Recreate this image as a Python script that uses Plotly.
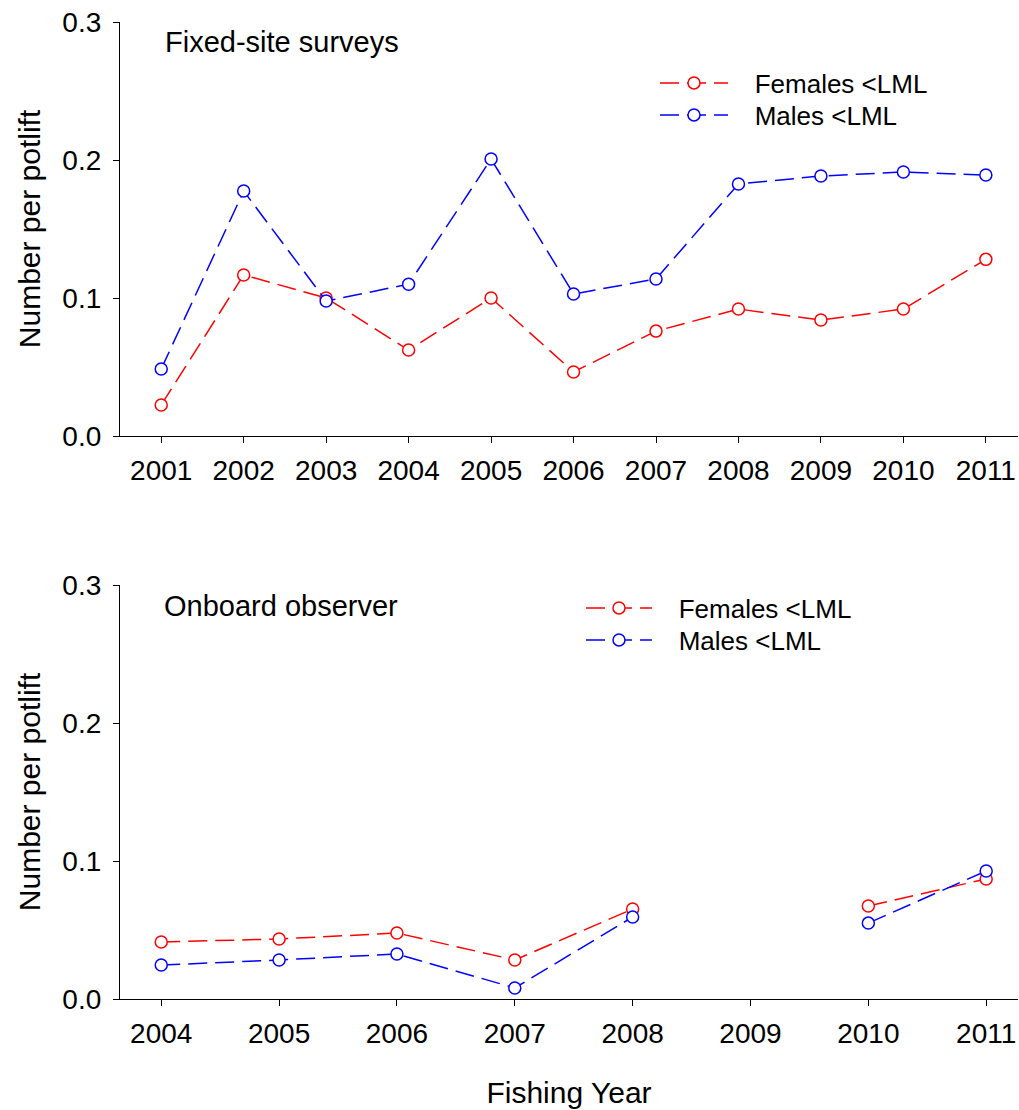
import plotly.graph_objects as go

years_top = [2001, 2002, 2003, 2004, 2005, 2006, 2007, 2008, 2009, 2010, 2011]
fem_top = [0.0225, 0.1167, 0.100, 0.0623, 0.100, 0.0464, 0.076, 0.092, 0.084, 0.092, 0.128]
male_top = [0.0486, 0.1775, 0.0978, 0.110, 0.2007, 0.1029, 0.1138, 0.1826, 0.1884, 0.1913, 0.1891]

years_bot = [2004, 2005, 2006, 2007, 2008, 2009, 2010, 2011]
fem_bot = [0.0413, 0.0435, 0.0478, 0.0283, 0.0652, None, 0.0674, 0.087]
male_bot = [0.0246, 0.0283, 0.0326, 0.008, 0.0594, None, 0.055, 0.0928]

y_ticks = [0.0, 0.1, 0.2, 0.3]
y_ticklabels = ["0.0", "0.1", "0.2", "0.3"]

RED = "#FF0000"
BLUE = "#0000FF"
FONT = "Liberation Sans, Arial, sans-serif"
W, H = 1019, 1110
ML, MR, MT, MB = 120, 1, 22, 111
PW, PH = W - ML - MR, H - MT - MB
NB = "\u00a0\u00a0\u00a0"


def px_x(p):
    return (p - ML) / PW


def px_y(p):
    return (H - MB - p) / PH


def tr(x, y, name, color, xa, ya, legend):
    return go.Scatter(
        x=x, y=y, name=NB + name, mode="lines+markers",
        line=dict(color=color, width=1.5, dash="19px,8px"),
        marker=dict(symbol="circle", size=12, color="white",
                    line=dict(color=color, width=1.5)),
        xaxis=xa, yaxis=ya, legend=legend, connectgaps=False,
    )


fig = go.Figure()
fig.add_trace(tr(years_top, fem_top, "Females <LML", RED, "x", "y", "legend"))
fig.add_trace(tr(years_top, male_top, "Males <LML", BLUE, "x", "y", "legend3"))
fig.add_trace(tr(years_bot, fem_bot, "Females <LML", RED, "x2", "y2", "legend2"))
fig.add_trace(tr(years_bot, male_bot, "Males <LML", BLUE, "x2", "y2", "legend4"))

axis_common = dict(showline=True, linecolor="black", linewidth=1.2,
                   ticks="outside", ticklen=6, tickcolor="black", tickwidth=1.2,
                   showgrid=False, zeroline=False, automargin=False,
                   tickfont=dict(family=FONT, size=28, color="black"))
title_font = dict(family=FONT, size=30, color="black")

top_dom = [px_y(436), px_y(22)]
bot_dom = [px_y(999), px_y(585)]


def leg(xp, yc, iw):
    return dict(x=px_x(xp), y=px_y(yc), xanchor="left", yanchor="middle",
                bgcolor="rgba(0,0,0,0)", font=dict(family=FONT, size=26, color="black"),
                itemwidth=iw, tracegroupgap=0)


fig.update_layout(
    width=W, height=H,
    margin=dict(l=ML, r=MR, t=MT, b=MB),
    paper_bgcolor="white", plot_bgcolor="white",
    font=dict(family=FONT, size=26, color="black"),
    xaxis=dict(domain=[0, 1], anchor="y", range=[2000.5, 2011.39],
               tickvals=years_top, ticktext=[str(v) for v in years_top],
               ticklabelstandoff=3, **axis_common),
    yaxis=dict(domain=top_dom, anchor="x", range=[0, 0.3],
               tickvals=y_ticks, ticktext=y_ticklabels, ticklabelstandoff=6,
               title=dict(text="Number per potlift", font=title_font, standoff=12),
               **axis_common),
    xaxis2=dict(domain=[0, 1], anchor="y2", range=[2003.65, 2011.27],
                tickvals=years_bot, ticktext=[str(v) for v in years_bot],
                ticklabelstandoff=3,
                title=dict(text="Fishing Year", font=title_font, standoff=34),
                **axis_common),
    yaxis2=dict(domain=bot_dom, anchor="x2", range=[0, 0.3],
                tickvals=y_ticks, ticktext=y_ticklabels, ticklabelstandoff=6,
                title=dict(text="Number per potlift", font=title_font, standoff=12),
                **axis_common),
    legend=leg(655, 83, 68),
    legend3=leg(655, 115, 68),
    legend2=leg(581, 608, 66),
    legend4=leg(581, 640, 66),
    showlegend=True,
    annotations=[
        dict(text="Fixed-site surveys", x=px_x(163), y=px_y(42), xref="paper", yref="paper",
             xanchor="left", yanchor="middle", showarrow=False,
             font=dict(family=FONT, size=29, color="black")),
        dict(text="Onboard observer", x=px_x(162), y=px_y(606), xref="paper", yref="paper",
             xanchor="left", yanchor="middle", showarrow=False,
             font=dict(family=FONT, size=29, color="black")),
    ],
)

fig.write_html("out.html")
